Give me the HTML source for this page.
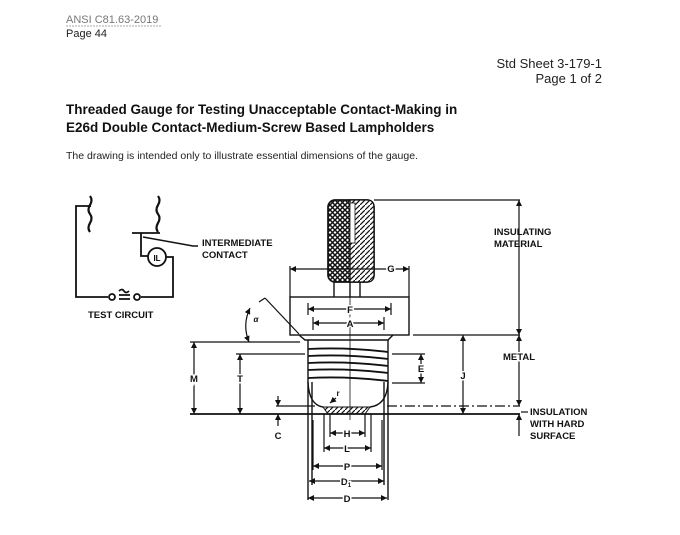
<!DOCTYPE html>
<html><head><meta charset="utf-8"><style>
html,body{margin:0;padding:0;background:#fff;width:680px;height:535px;overflow:hidden}
svg{display:block}
text{font-family:"Liberation Sans",sans-serif}
.b{font-weight:bold;font-size:9.5px;fill:#111}
</style></head><body>
<svg width="680" height="535" viewBox="0 0 680 535" xmlns="http://www.w3.org/2000/svg">
<defs>
<pattern id="x" width="5" height="5" patternUnits="userSpaceOnUse">
<rect width="5" height="5" fill="#fff"/><path d="M0 0L5 5M5 0L0 5" stroke="#111" stroke-width="1.5"/></pattern>
<pattern id="d" width="5" height="5" patternUnits="userSpaceOnUse">
<rect width="5" height="5" fill="#fff"/><path d="M0 5L5 0" stroke="#111" stroke-width="1.2"/></pattern>
<marker id="a" viewBox="0 0 6 6" refX="6" refY="3" markerWidth="5" markerHeight="5" orient="auto-start-reverse"><path d="M0 0L6 3L0 6z" fill="#111"/></marker>
</defs>
<text x="66" y="23" font-size="11" fill="#777">ANSI C81.63-2019</text>
<line x1="66" y1="26" x2="161" y2="26" stroke="#aaa" stroke-dasharray="2 1"/>
<text x="66" y="37" font-size="11" fill="#222">Page 44</text>
<text x="602" y="68" font-size="13" fill="#222" text-anchor="end">Std Sheet 3-179-1</text>
<text x="602" y="83" font-size="13" fill="#222" text-anchor="end">Page 1 of 2</text>
<text x="66" y="114" font-size="13.5" font-weight="bold" fill="#111">Threaded Gauge for Testing Unacceptable Contact-Making in</text>
<text x="66" y="132" font-size="13.5" font-weight="bold" fill="#111">E26d Double Contact-Medium-Screw Based Lampholders</text>
<text x="66" y="159" font-size="10.5" fill="#222">The drawing is intended only to illustrate essential dimensions of the gauge.</text>

<g stroke="#111" stroke-width="1.8" fill="none">
<path d="M91 206H76V297H108M141 297H173V257H166"/>
<path d="M90 196q3 4 0 9t0 9t0 9t0 9M158 196q3 4 0 9t0 9t0 9t0 9" stroke-width="2.2"/>
<path d="M132 233H160M141 233V256H148"/>
<circle cx="157" cy="257" r="9"/>
<circle cx="112" cy="297" r="3"/><circle cx="137" cy="297" r="3"/>
<path d="M119 295h11M119 299h11M119 291q3-3 5 0t5 0"/>
<path d="M143 237L193 246H198" stroke-width="1.4"/>
</g>
<text x="157" y="261" font-size="8" font-weight="bold" text-anchor="middle">IL</text>
<text x="202" y="246" class="b">INTERMEDIATE</text>
<text x="202" y="258" class="b">CONTACT</text>
<text x="88" y="318" class="b">TEST CIRCUIT</text>

<rect x="328" y="200" width="46" height="82" rx="7" fill="url(#x)" stroke="#111" stroke-width="1.7"/>
<path d="M350 200H367Q374 200 374 207V275Q374 282 367 282H350Z" fill="url(#d)" stroke="#111" stroke-width="1.3"/>
<rect x="350" y="203" width="5" height="40" fill="#fff" stroke="#111" stroke-width="0.8"/>
<g stroke="#111" stroke-width="1.4" fill="none">
<path d="M334 282V297M350 282V297M360 282V297"/>
<rect x="290" y="297" width="119" height="38"/>
<path d="M299 335L305 340H388L393 335"/>
<path d="M308 340V382M388 340V382"/>
<path d="M308 349Q348 347 388 352M308 356Q348 354 388 359M308 363Q348 361 388 366M308 370Q348 368 388 373M308 378Q348 376 388 381" stroke-width="1.8"/>
<path d="M308 382Q309 405 323 407M388 382Q387 405 370 407"/>
<path d="M308 382V500M312 382V485M384 382V485M388 382V500"/>
</g>
<path d="M323 407L328 414H365L370 407Z" fill="url(#d)" stroke="#111" stroke-width="1"/>
<g stroke="#111" stroke-width="1.2" fill="none">
<path d="M190 414H520" stroke-width="1.8"/>
<path d="M190 342H300"/>
<path d="M413 335H520M374 200H520M236 354H305M392 354H425M392 383H425"/>
<path d="M387 406H520" stroke-dasharray="10 3 2 3"/>
<path d="M276 406H315"/>
<path d="M350 297V420" stroke-width="0.8"/>
<path d="M290 266V297M409 266V297M308 303V315M391 303V315M313 317V330M384 317V330"/>
<path d="M330 414V437M365 414V437M324 414V452M371 414V452M313 420V470M382 420V470"/>
<path d="M194 342V414" marker-start="url(#a)" marker-end="url(#a)"/>
<path d="M240 354V414" marker-start="url(#a)" marker-end="url(#a)"/>
<path d="M463 335V414" marker-start="url(#a)" marker-end="url(#a)"/>
<path d="M421 354V383" marker-start="url(#a)" marker-end="url(#a)"/>
<path d="M519 200V335" marker-start="url(#a)" marker-end="url(#a)"/>
<path d="M519 335V406" marker-start="url(#a)" marker-end="url(#a)"/>
<path d="M519 414V436" marker-start="url(#a)"/>
<path d="M278 396V406" marker-end="url(#a)"/>
<path d="M278 426V414" marker-end="url(#a)"/>
<path d="M290 269H409" marker-start="url(#a)" marker-end="url(#a)"/>
<path d="M308 309H391" marker-start="url(#a)" marker-end="url(#a)"/>
<path d="M313 323H384" marker-start="url(#a)" marker-end="url(#a)"/>
<path d="M330 433H365" marker-start="url(#a)" marker-end="url(#a)"/>
<path d="M324 448H371" marker-start="url(#a)" marker-end="url(#a)"/>
<path d="M313 466H382" marker-start="url(#a)" marker-end="url(#a)"/>
<path d="M309 481H384" marker-start="url(#a)" marker-end="url(#a)"/>
<path d="M308 498H387" marker-start="url(#a)" marker-end="url(#a)"/>
<path d="M265 298L299 334M265 298L259 302"/>
<path d="M250 308Q242 325 249 342" marker-start="url(#a)" marker-end="url(#a)"/>
<path d="M336 398L330 403" marker-end="url(#a)"/>
</g>
<g font-size="9.5" font-weight="bold" fill="#111" text-anchor="middle" style="paint-order:stroke" stroke="#fff" stroke-width="3">
<text x="391" y="272">G</text><text x="350" y="313">F</text><text x="350" y="327">A</text>
<text x="194" y="382">M</text><text x="240" y="382">T</text><text x="463" y="379">J</text>
<text x="421" y="372">E</text><text x="278" y="439">C</text>
<text x="347" y="437">H</text><text x="347" y="452">L</text><text x="347" y="470">P</text>
<text x="346" y="485">D<tspan font-size="6" dy="2">1</tspan></text><text x="347" y="502">D</text>
<text x="256" y="322" font-size="8" font-style="italic">α</text>
<text x="338" y="396" font-size="8">r</text>
<text x="519" y="360">METAL</text>
</g>
<text x="494" y="235" class="b">INSULATING</text>
<text x="494" y="247" class="b">MATERIAL</text>
<text x="530" y="415" class="b">INSULATION</text>
<text x="530" y="427" class="b">WITH HARD</text>
<text x="530" y="439" class="b">SURFACE</text>
<path d="M521 412H528" stroke="#111" stroke-width="1.2"/>
</svg>
</body></html>
